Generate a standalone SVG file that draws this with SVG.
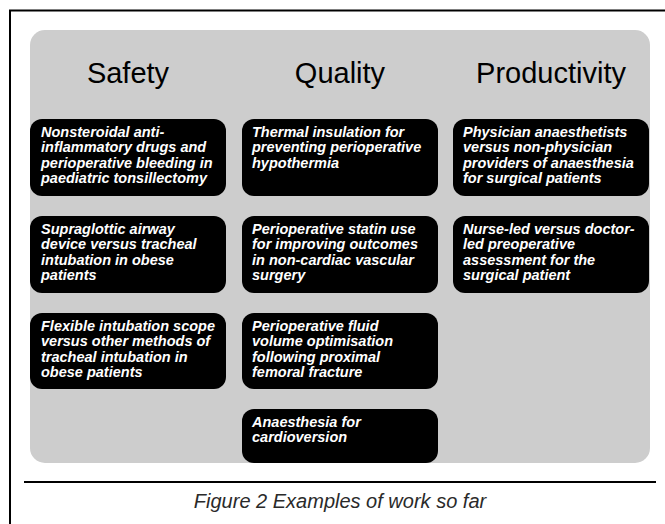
<svg xmlns="http://www.w3.org/2000/svg" width="665" height="524" viewBox="0 0 665 524">
<style>
.frame{stroke:#000;stroke-width:2;fill:none}
.panel{fill:#cdcdcd}
.box{fill:#000}
.head{font-family:"Liberation Sans",Arial,sans-serif;font-size:29px;fill:#000;text-anchor:middle}
.bt{font-family:"Liberation Sans",Arial,sans-serif;font-size:14.5px;font-weight:bold;font-style:italic;fill:#fff}
.cap{font-family:"Liberation Sans",Arial,sans-serif;font-size:20px;font-style:italic;fill:#2a2a2a}
</style>
<rect width="665" height="524" fill="#fff"/>
<path class="frame" d="M10 524 V10.5 H665"/>
<rect class="panel" x="30" y="30" width="620" height="433" rx="15"/>
<g id="headings">
<text class="head" x="128" y="83">Safety</text>
<text class="head" x="340" y="83">Quality</text>
<text class="head" x="551" y="83">Productivity</text>
</g>
<g id="connectors"></g>
<g id="s1"><rect class="box" x="30" y="119" width="196" height="77" rx="12"/>
<text class="bt" x="41" y="137">Nonsteroidal anti-<tspan x="41" dy="15.3">inflammatory drugs and</tspan><tspan x="41" dy="15.3">perioperative bleeding in</tspan><tspan x="41" dy="15.3">paediatric tonsillectomy</tspan></text></g>
<g id="s2"><rect class="box" x="30" y="216" width="196" height="77" rx="12"/>
<text class="bt" x="41" y="234">Supraglottic airway<tspan x="41" dy="15.3">device versus tracheal</tspan><tspan x="41" dy="15.3">intubation in obese</tspan><tspan x="41" dy="15.3">patients</tspan></text></g>
<g id="s3"><rect class="box" x="30" y="313" width="196" height="76" rx="12"/>
<text class="bt" x="41" y="331">Flexible intubation scope<tspan x="41" dy="15.3">versus other methods of</tspan><tspan x="41" dy="15.3">tracheal intubation in</tspan><tspan x="41" dy="15.3">obese patients</tspan></text></g>
<g id="q1"><rect class="box" x="242" y="119" width="196" height="77" rx="12"/>
<text class="bt" x="252" y="137">Thermal insulation for<tspan x="252" dy="15.3">preventing perioperative</tspan><tspan x="252" dy="15.3">hypothermia</tspan></text></g>
<g id="q2"><rect class="box" x="242" y="216" width="196" height="77" rx="12"/>
<text class="bt" x="252" y="234">Perioperative statin use<tspan x="252" dy="15.3">for improving outcomes</tspan><tspan x="252" dy="15.3">in non-cardiac vascular</tspan><tspan x="252" dy="15.3">surgery</tspan></text></g>
<g id="q3"><rect class="box" x="242" y="313" width="196" height="76" rx="12"/>
<text class="bt" x="252" y="331">Perioperative fluid<tspan x="252" dy="15.3">volume optimisation</tspan><tspan x="252" dy="15.3">following proximal</tspan><tspan x="252" dy="15.3">femoral fracture</tspan></text></g>
<g id="q4"><rect class="box" x="242" y="409" width="196" height="54" rx="12"/>
<text class="bt" x="252" y="427">Anaesthesia for<tspan x="252" dy="15.3">cardioversion</tspan></text></g>
<g id="p1"><rect class="box" x="453" y="119" width="196" height="77" rx="12"/>
<text class="bt" x="463" y="137">Physician anaesthetists<tspan x="463" dy="15.3">versus non-physician</tspan><tspan x="463" dy="15.3">providers of anaesthesia</tspan><tspan x="463" dy="15.3">for surgical patients</tspan></text></g>
<g id="p2"><rect class="box" x="453" y="216" width="196" height="77" rx="12"/>
<text class="bt" x="463" y="234">Nurse-led versus doctor-<tspan x="463" dy="15.3">led preoperative</tspan><tspan x="463" dy="15.3">assessment for the</tspan><tspan x="463" dy="15.3">surgical patient</tspan></text></g>
<line x1="24" y1="482" x2="656" y2="482" stroke="#000" stroke-width="2"/>
<text class="cap" x="340" y="508" text-anchor="middle">Figure 2 Examples of work so far</text>
</svg>
